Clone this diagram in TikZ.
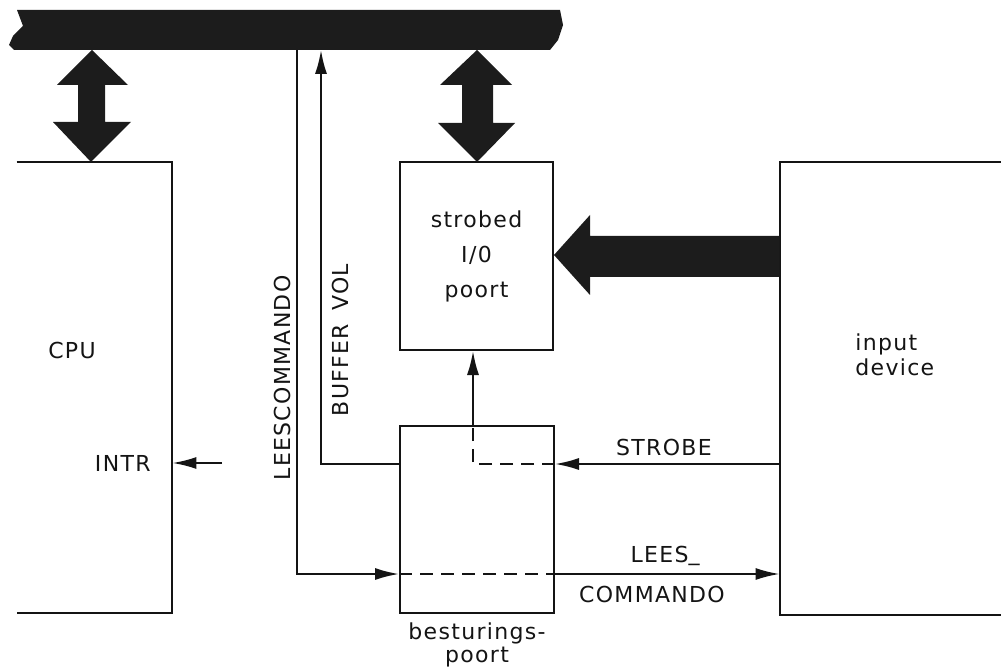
\documentclass[tikz,border=0pt]{standalone}
\usepackage{fontspec}
\usepackage{tikz}
\usepackage{xcolor}
\usetikzlibrary{arrows.meta,calc,positioning}
\newfontfamily\iofont[LetterSpace=6]{DejaVu Sans}
\definecolor{BusCol}{RGB}{28,28,28}
\definecolor{RuleCol}{RGB}{20,20,20}
\tikzset{
  iobox/.style={draw=RuleCol, line width=1pt, inner sep=0pt},
  iofree/.style={draw=none, inner sep=0pt},
  ioedge/.style={line width=1pt, draw=RuleCol},
  iosig/.style={-{Latex[length=12pt,width=6pt]}, line width=1pt, draw=RuleCol},
  iodash/.style={line width=1pt, draw=RuleCol, dash pattern=on 6.5pt off 4pt},
  iobus/.style={fill=BusCol, draw=none},
  iolab/.style={font=\iofont\fontsize{11}{13}\selectfont, text=RuleCol, inner sep=1pt}
}

\begin{document}
\begin{tikzpicture}[x=0.5pt,y=-0.5pt]
  \useasboundingbox (0,0) rectangle (1001,668);
  % systeembus
  \fill[iobus] (17,10) -- (560,10) -- (563,25) -- (558,40) -- (550,50) -- (14,50)
    -- (9,45) -- (13,36) -- (23,26) -- cycle;
  \coordinate (leestop) at (297,50);
  \coordinate (buftop) at (321,50);
  % blokken
  \node[iofree, minimum width=77.5pt, minimum height=225.5pt] (cpu) at (94.5,387.5) {};
  \node[iobox, minimum width=76.5pt, minimum height=94pt, align=center,
        iolab, font=\iofont\fontsize{11}{17.5}\selectfont] (sio) at (476.5,256) {strobed\\I/0\\poort};
  \node[iobox, minimum width=77pt, minimum height=93.5pt] (bst) at (477,519.5) {};
  \node[iofree, minimum width=110.5pt, minimum height=226.5pt] (inp) at (890.5,388.5) {};
  \draw[ioedge] (cpu.north west) -- (cpu.north east) -- (cpu.south east) -- (cpu.south west);
  \draw[ioedge] (inp.north east) -- (inp.north west) -- (inp.south west) -- (inp.south east);
  \node[iolab] (cpulab) at (72,350) {CPU};
  \node[iolab, anchor=west, align=left, font=\iofont\fontsize{11}{12.5}\selectfont] (inplab) at (853,355) {input\\device};
  \node[iolab, below=3pt of bst, align=center, font=\iofont\fontsize{11}{11.5}\selectfont] (bstlab) {besturings-\\poort};
  % brede pijlen
  \fill[iobus] (92,50) -- (57,85) -- (78,85) -- (78,122) -- (53,122) -- (91,162)
    -- (131,122) -- (105,122) -- (105,85) -- (128,85) -- cycle;
  \fill[iobus] (477,50) -- (440,85) -- (462,85) -- (462,123) -- (438,123) -- (477,162)
    -- (515,123) -- (493,123) -- (493,85) -- (512,85) -- cycle;
  \fill[iobus] (inp.west |- 0,236) -- (590,236) -- (590,215) -- (sio.east |- 0,255)
    -- (590,295) -- (590,277) -- (inp.west |- 0,277) -- cycle;
  % signaallijnen
  \coordinate (strow) at (0,464);
  \coordinate (leesrow) at (0,574);
  \coordinate (intrsrc) at (222,463);
  \coordinate (sbend) at (473,464);
  \draw[iosig] (intrsrc) -- (intrsrc -| cpu.east);
  \node[iolab, anchor=east] (intrlab) at (153,463) {INTR};
  \draw[iosig] (bst.west |- strow) -| (buftop);
  \node[iolab, rotate=90] (buflab) at (340,340) {BUFFER\hspace{0.6em}VOL};
  \draw[iosig] (leestop) |- (bst.west |- leesrow);
  \node[iolab, rotate=90] (leeslab) at (282,378) {LEESCOMMANDO};
  \draw[iodash] (bst.west |- leesrow) -- (bst.east |- leesrow);
  \draw[iosig] (bst.east |- leesrow) -- (inp.west |- leesrow);
  \node[iolab] (lees1) at (665,556) {LEES\raisebox{1.2pt}{\_}};
  \node[iolab] (lees2) at (652,594) {COMMANDO};
  \draw[iosig] (inp.west |- strow) -- (bst.east |- strow);
  \node[iolab] (strlab) at (664,447) {STROBE};
  \draw[iodash] (bst.east |- strow) -- (sbend) -- (sbend |- bst.north);
  \draw[iosig] (sbend |- bst.north) -- (sbend |- sio.south);
\end{tikzpicture}
\end{document}
